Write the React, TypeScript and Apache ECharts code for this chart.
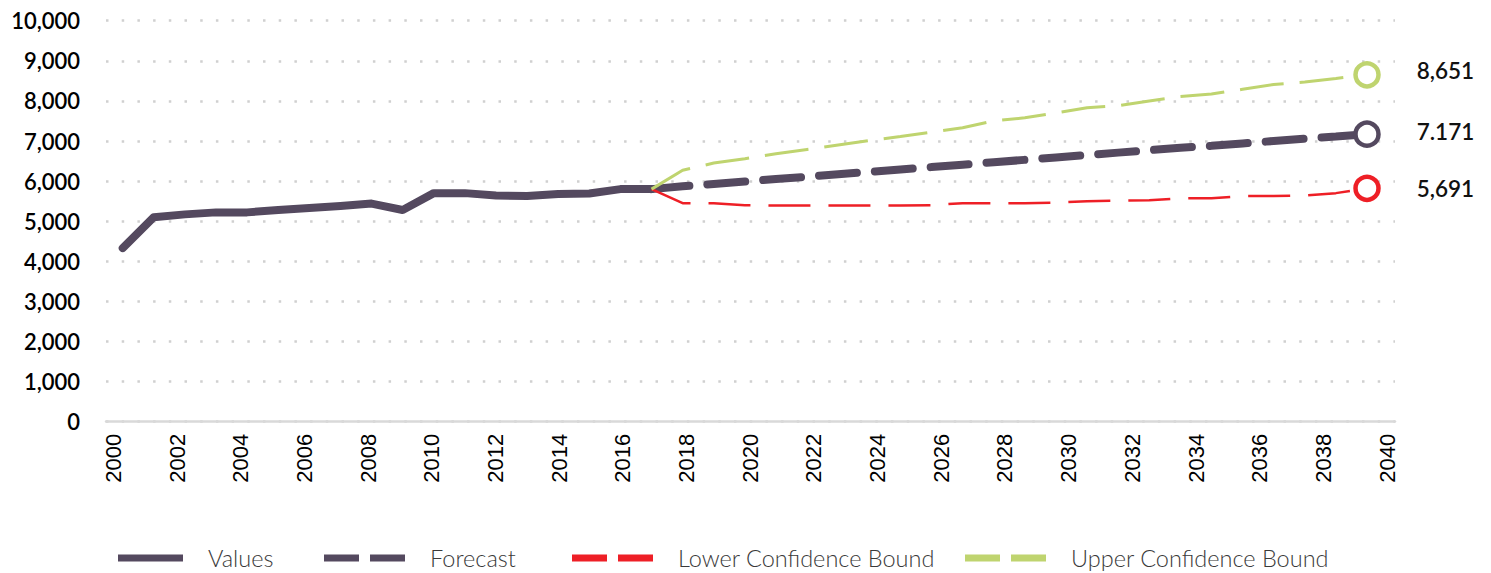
import React, { useEffect, useRef } from "react";
import * as echarts from "echarts";

const histYears = [2000, 2001, 2002, 2003, 2004, 2005, 2006, 2007, 2008, 2009, 2010, 2011, 2012, 2013, 2014, 2015, 2016, 2017];
const histValues = [4330, 5100, 5170, 5220, 5220, 5280, 5330, 5380, 5440, 5280, 5700, 5700, 5640, 5630, 5680, 5690, 5800, 5800];

const fcYears = [2017, 2018, 2019, 2020, 2021, 2022, 2023, 2024, 2025, 2026, 2027, 2028, 2029, 2030, 2031, 2032, 2033, 2034, 2035, 2036, 2037, 2038, 2039, 2040];
const forecast = [5800, 5870, 5930, 5990, 6050, 6110, 6170, 6230, 6290, 6350, 6410, 6470, 6530, 6590, 6650, 6710, 6770, 6830, 6880, 6940, 7000, 7060, 7110, 7171];
const lowerBound = [5800, 5450, 5450, 5400, 5390, 5390, 5390, 5390, 5390, 5400, 5450, 5450, 5450, 5460, 5500, 5510, 5520, 5570, 5570, 5630, 5630, 5640, 5700, 5820];
const upperBound = [5800, 6270, 6450, 6560, 6680, 6790, 6900, 7010, 7110, 7220, 7330, 7500, 7580, 7700, 7830, 7880, 8000, 8110, 8170, 8290, 8410, 8470, 8560, 8651];

const endLabels = { forecast: "7.171", lower: "5,691", upper: "8,651" };
const xTickLabels = [2000, 2002, 2004, 2006, 2008, 2010, 2012, 2014, 2016, 2018, 2020, 2022, 2024, 2026, 2028, 2030, 2032, 2034, 2036, 2038, 2040];
const seriesNames = ["Values", "Forecast", "Lower Confidence Bound", "Upper Confidence Bound"];

const PURPLE = "#54495f";
const RED = "#ee1f26";
const GREEN = "#bfd46f";

function withEnd(years: number[], vals: number[], color: string, label: string, dy: number) {
  return vals.map((v, i) => {
    if (i < vals.length - 1) return [years[i], v];
    return {
      value: [years[i], v],
      symbol: "circle",
      symbolSize: 23,
      itemStyle: { color: "#ffffff", borderColor: color, borderWidth: 4.5 },
      label: {
        show: true,
        position: "right",
        distance: 36,
        offset: [0, dy],
        formatter: () => label,
        fontFamily: "Lato",
        fontWeight: 600,
        fontSize: 22.5,
        color: "#111111",
      },
    };
  });
}

const dashIcon = "path://M0,0H35V7H0Z M46,0H81V7H46Z";

export default function App() {
  const ref = useRef<HTMLDivElement>(null);
  useEffect(() => {
    document.body.style.margin = "0";
    const chart = echarts.init(ref.current!, undefined, { renderer: "svg" });
    const legendBase = {
      top: 546,
      padding: 0,
      itemWidth: 81,
      itemHeight: 7,
      itemGap: 25,
      textStyle: { fontFamily: "Lato", fontWeight: 300, fontSize: 23.5, color: "#3a3a3a", padding: [0, 0, 0, 20] },
      selectedMode: false,
    };
    chart.setOption({
      animation: false,
      backgroundColor: "#ffffff",
      grid: { left: 106, right: 96, top: 20.7, bottom: 151.3 },
      legend: [
        { ...legendBase, left: 118, itemWidth: 65, data: [{ name: seriesNames[0], icon: "rect" }] },
        { ...legendBase, left: 324, data: [{ name: seriesNames[1], icon: dashIcon }] },
        { ...legendBase, left: 572, data: [{ name: seriesNames[2], icon: dashIcon }] },
        { ...legendBase, left: 965, data: [{ name: seriesNames[3], icon: dashIcon }] },
      ],
      xAxis: [
        {
          type: "value",
          min: 1999.463,
          max: 2040.9,
          show: false,
          position: "bottom",
          splitLine: { show: false },
        },
        {
          type: "value",
          min: 1999.764,
          max: 2040.25,
          position: "bottom",
          axisLine: { show: true, lineStyle: { color: "#d9d9d9", width: 2.5 } },
          axisTick: { show: false },
          splitLine: { show: false },
          axisLabel: {
            customValues: xTickLabels,
            rotate: 90,
            margin: 12,
            fontFamily: "Liberation Sans",
            fontSize: 22,
            color: "#000000",
            formatter: (v: number) => String(v),
          },
        },
      ],
      yAxis: {
        type: "value",
        min: 0,
        max: 10000,
        interval: 1000,
        axisLine: { show: false },
        axisTick: { show: false },
        splitLine: { show: true, lineStyle: { color: "#d0d0d0", width: 2.5, type: [2.5, 13.2] } },
        axisLabel: {
          margin: 26,
          fontFamily: "Lato",
          fontWeight: 600,
          fontSize: 22,
          color: "#000000",
          formatter: (v: number) => v.toLocaleString("en-US"),
        },
      },
      series: [
        {
          name: seriesNames[0],
          type: "line",
          xAxisIndex: 0,
          data: histYears.map((y, i) => [y, histValues[i]]),
          showSymbol: false,
          color: PURPLE,
          lineStyle: { color: PURPLE, width: 8, cap: "round", join: "round" },
          z: 3,
        },
        {
          name: seriesNames[1],
          type: "line",
          xAxisIndex: 0,
          data: withEnd(fcYears, forecast, PURPLE, endLabels.forecast, -3),
          symbol: "none",
          showSymbol: true,
          color: PURPLE,
          lineStyle: { color: PURPLE, width: 8, type: [38, 18], cap: "round" },
          z: 4,
        },
        {
          name: seriesNames[2],
          type: "line",
          xAxisIndex: 0,
          data: withEnd(fcYears, lowerBound, RED, endLabels.lower, 0),
          symbol: "none",
          showSymbol: true,
          color: RED,
          lineStyle: { color: RED, width: 2.5, type: [42, 18] },
          z: 5,
        },
        {
          name: seriesNames[3],
          type: "line",
          xAxisIndex: 0,
          data: withEnd(fcYears, upperBound, GREEN, endLabels.upper, -4),
          symbol: "none",
          showSymbol: true,
          color: GREEN,
          lineStyle: { color: GREEN, width: 3, type: [44, 16] },
          z: 6,
        },
      ],
    });
    return () => chart.dispose();
  }, []);
  return <div ref={ref} style={{ width: 1491, height: 573 }} />;
}
